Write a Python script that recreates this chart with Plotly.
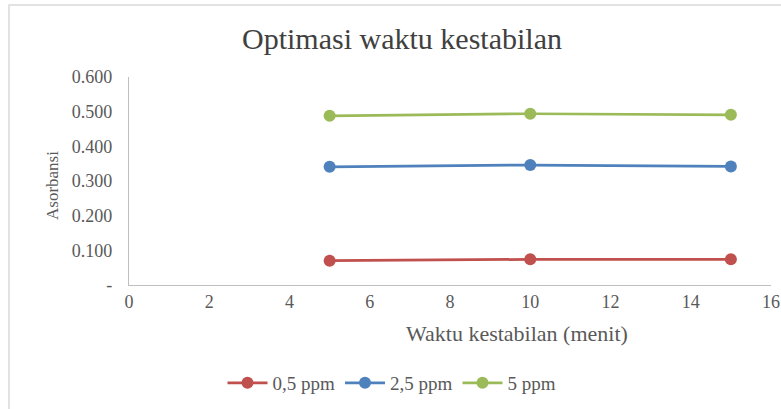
import plotly.graph_objects as go

# Data
waktu = [5, 10, 15]
series_names = ["0,5 ppm", "2,5 ppm", "5 ppm"]
abs_05 = [0.070, 0.074, 0.074]
abs_25 = [0.341, 0.346, 0.342]
abs_5 = [0.488, 0.494, 0.491]
y_tickvals = [0, 0.1, 0.2, 0.3, 0.4, 0.5, 0.6]
y_ticktext = ["-", "0.100", "0.200", "0.300", "0.400", "0.500", "0.600"]
x_tickvals = [0, 2, 4, 6, 8, 10, 12, 14, 16]

colors = ["#C0504D", "#4F81BD", "#9BBB59"]
FONT = "Liberation Serif, Times New Roman, serif"
TXT = "#595959"

W, H = 781, 409
L, R, T, B = 129, 10, 77, 124
pw, ph = W - L - R, H - T - B

def px_x(px):
    return (px - L) / pw

def px_y(py):
    return (H - B - py) / ph

fig = go.Figure()
for name, vals, c in zip(series_names, [abs_05, abs_25, abs_5], colors):
    fig.add_trace(go.Scatter(
        x=waktu, y=vals, name=name, mode="lines+markers",
        line=dict(color=c, width=2.75),
        marker=dict(color=c, size=12),
    ))

fig.update_layout(
    width=W, height=H,
    margin=dict(l=L, r=R, t=T, b=B, autoexpand=False),
    paper_bgcolor="white", plot_bgcolor="white",
    font=dict(family=FONT, color=TXT, size=18),
    title=dict(text="Optimasi waktu kestabilan", x=402 / W, xanchor="center",
               y=1 - 38 / H, yanchor="middle", xref="container", yref="container",
               font=dict(family=FONT, size=30, color="#404040")),
    showlegend=True,
    legend=dict(orientation="h", xref="container", yref="container",
                x=392 / W, xanchor="center", y=1 - 383 / H, yanchor="middle",
                font=dict(family=FONT, size=19, color=TXT),
                itemwidth=40, tracegroupgap=0),
    xaxis=dict(range=[0, 16], tickvals=x_tickvals, showgrid=False, zeroline=False,
               showline=True, linecolor="#BFBFBF", linewidth=1.2, ticks="",
               automargin=False,
               tickfont=dict(family=FONT, size=18, color=TXT)),
    yaxis=dict(range=[0, 0.6], tickvals=y_tickvals, ticktext=y_ticktext,
               showgrid=False, zeroline=False, showline=True, linecolor="#BFBFBF",
               linewidth=1.2, ticks="", ticklabelstandoff=12, automargin=False,
               tickfont=dict(family=FONT, size=18, color=TXT)),
    shapes=[dict(type="rect", xref="paper", yref="paper",
                 x0=px_x(9), x1=px_x(800), y0=px_y(430), y1=px_y(5),
                 line=dict(color="#D9D9D9", width=1.5), layer="below")],
    annotations=[
        dict(text="Waktu kestabilan (menit)", xref="paper", yref="paper",
             x=px_x(517), y=px_y(333), xanchor="center", yanchor="middle",
             showarrow=False, font=dict(family=FONT, size=22, color=TXT)),
        dict(text="Asorbansi", xref="paper", yref="paper",
             x=px_x(52), y=px_y(186), xanchor="center", yanchor="middle",
             textangle=-90, showarrow=False, font=dict(family=FONT, size=17, color=TXT)),
    ],
)

fig.write_html("out.html", config={"displayModeBar": False},
               post_script="document.body.style.margin='0';")
